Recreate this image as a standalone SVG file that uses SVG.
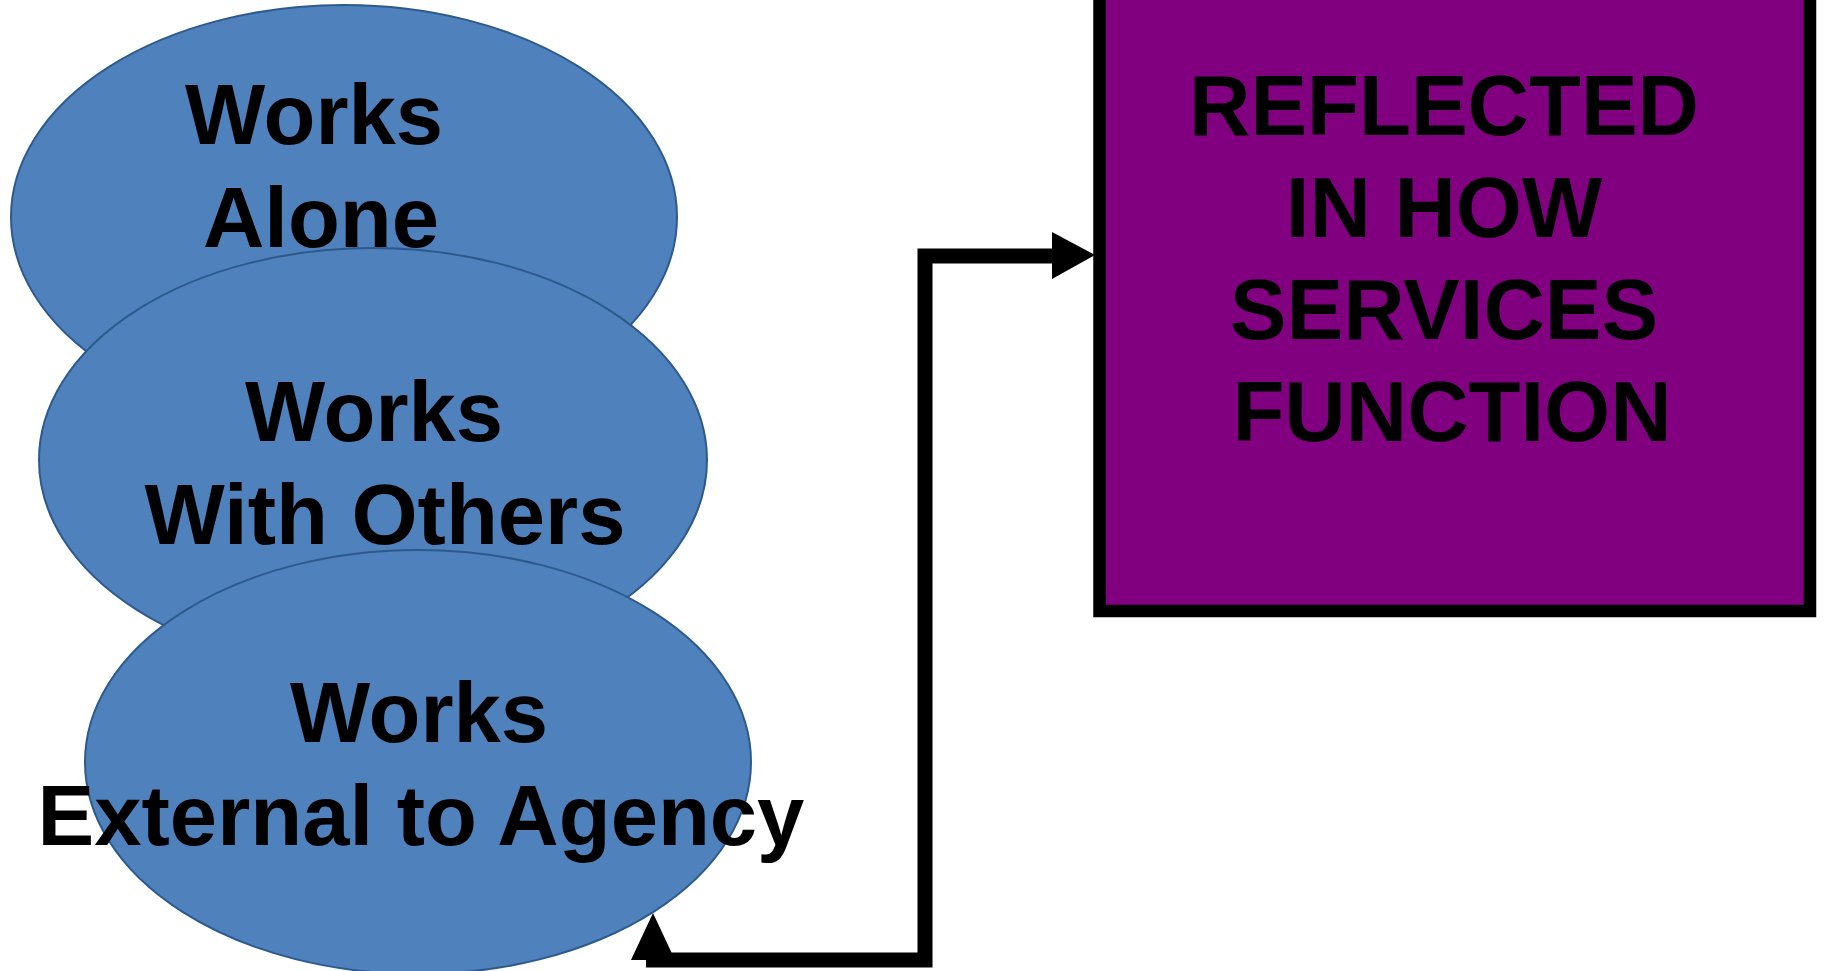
<svg xmlns="http://www.w3.org/2000/svg" width="1826" height="971" viewBox="0 0 1826 971">
<style>
.ell{fill:#4F81BD;stroke:#2C5A8C;stroke-width:2}
.t{font-family:"Liberation Sans",Arial,sans-serif;font-weight:bold;font-size:85px;fill:#000;text-anchor:middle}
.conn{fill:none;stroke:#000;stroke-width:15;stroke-linecap:butt;stroke-linejoin:miter}
</style>
<rect width="1826" height="971" fill="#fff"/>
<g id="node-alone">
<ellipse class="ell" cx="344" cy="217" rx="333" ry="212"/>
<text class="t" x="314" y="144">Works</text>
<text class="t" x="321" y="247">Alone</text>
</g>
<g id="node-others">
<ellipse class="ell" cx="373" cy="460" rx="334" ry="212"/>
<text class="t" x="374" y="441">Works</text>
<text class="t" x="385" y="544">With Others</text>
</g>
<g id="node-external">
<ellipse class="ell" cx="418" cy="762" rx="333" ry="212"/>
<text class="t" x="419" y="742">Works</text>
<text class="t" x="421" y="845">External to Agency</text>
</g>
<g id="node-reflected">
<rect x="1099.5" y="-20" width="710.5" height="631" fill="#800080" stroke="#000" stroke-width="12.5"/>
<text class="t" x="1444" y="135">REFLECTED</text>
<text class="t" x="1444" y="237">IN HOW</text>
<text class="t" x="1444" y="339">SERVICES</text>
<text class="t" x="1452" y="441">FUNCTION</text>
</g>
<g id="connectors">
<path class="conn" d="M646 960 H925 V256 H1054"/>
<polygon points="1095,255 1052,232 1052,279" fill="#000"/>
<polygon points="653,913 631,960 675,960" fill="#000"/>
</g>
</svg>
